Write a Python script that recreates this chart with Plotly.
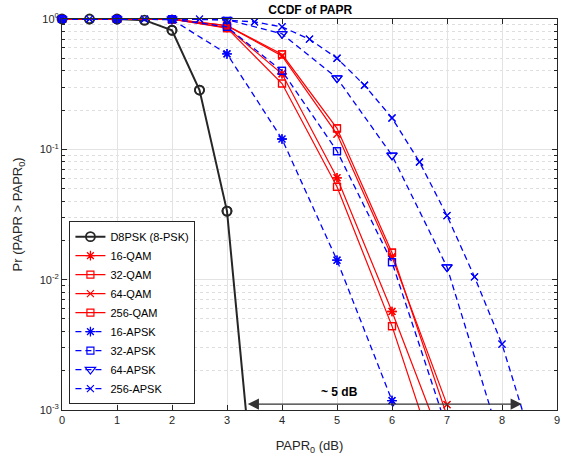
import numpy as np
import plotly.graph_objects as go

# ---------------- data ----------------
x_half = [0, 0.5, 1, 1.5, 2, 2.5, 3, 3.5]
d8psk = [1.0, 1.0, 1.0, 0.98, 0.82, 0.285, 0.0336, 2.0e-4]

x_int = [0, 1, 2, 3, 4, 5, 6, 7]
qam16 = [1.0, 1.0, 0.995, 0.86, 0.38, 0.0605, 0.0057, 4.5e-4]
qam32 = [1.0, 1.0, 0.995, 0.85, 0.32, 0.0516, 0.0044, 2.3e-4]
qam64 = [1.0, 1.0, 0.998, 0.89, 0.52, 0.131, 0.0150, 1.1e-3]
qam256 = [1.0, 1.0, 0.998, 0.89, 0.536, 0.145, 0.0161, 9.0e-4]

apsk16 = [1.0, 1.0, 0.99, 0.54, 0.12, 0.0141, 1.18e-3, 5.0e-5]
apsk32 = [1.0, 1.0, 0.998, 0.87, 0.40, 0.097, 0.0136, 7.2e-4]
x_apsk64 = [0, 1, 2, 3, 4, 5, 6, 7, 8]
apsk64 = [1.0, 1.0, 1.0, 0.99, 0.77, 0.352, 0.090, 0.0125, 5.3e-4]
x_apsk256 = [0, 0.5, 1, 1.5, 2, 2.5, 3, 3.5, 4, 4.5, 5, 5.5, 6, 6.5, 7, 7.5, 8, 8.5]
apsk256 = [1.0, 1.0, 1.0, 1.0, 1.0, 1.0, 0.98, 0.95, 0.87, 0.70, 0.50, 0.31,
           0.174, 0.080, 0.031, 0.0105, 0.0032, 6.6e-4]

x_ticks = [0, 1, 2, 3, 4, 5, 6, 7, 8, 9]
y_ticks = [1e-3, 1e-2, 1e-1, 1]
y_ticktext = ["10<sup>-3</sup>", "10<sup>-2</sup>", "10<sup>-1</sup>", "10<sup>0</sup>"]

arrow_left, arrow_right, arrow_y = 3.35, 8.36, 1.11e-3
label_x, label_y = 5.05, 1.38e-3

# ---------------- style ----------------
RED = "#ff0000"
BLUE = "#0000ff"
BLACK = "#262626"
DASH = "6px,4px"

series = [
    ("D8PSK (8-PSK)", x_half, d8psk, BLACK, 2.0, "solid", "circle-open", 9, 1.8),
    ("16-QAM", x_int, qam16, RED, 1.2, "solid", "asterisk-open", 8, 1.3),
    ("32-QAM", x_int, qam32, RED, 1.2, "solid", "square-open", 7, 1.2),
    ("64-QAM", x_int, qam64, RED, 1.2, "solid", "x-thin-open", 7, 1.2),
    ("256-QAM", x_int, qam256, RED, 1.2, "solid", "square-open", 7, 1.2),
    ("16-APSK", x_int, apsk16, BLUE, 1.3, DASH, "asterisk-open", 8, 1.3),
    ("32-APSK", x_int, apsk32, BLUE, 1.3, DASH, "square-open", 7, 1.2),
    ("64-APSK", x_apsk64, apsk64, BLUE, 1.3, DASH, "triangle-down-open", 9, 1.2),
    ("256-APSK", x_apsk256, apsk256, BLUE, 1.3, DASH, "x-thin-open", 7, 1.2),
]

fig = go.Figure()
for name, xs, ys, col, lw, dash, sym, ms, mlw in series:
    fig.add_trace(go.Scatter(
        x=xs, y=ys, name=name, mode="lines+markers",
        line=dict(color=col, width=lw, dash=dash),
        marker=dict(symbol=sym, size=ms, color=col, line=dict(color=col, width=mlw)),
        legendgroup=name,
    ))
    xin = [a for a, b in zip(xs, ys) if b >= 1e-3]
    yin = [b for b in ys if b >= 1e-3]
    fig.add_trace(go.Scatter(
        x=xin, y=yin, mode="markers", showlegend=False, legendgroup=name,
        cliponaxis=False, hoverinfo="skip",
        marker=dict(symbol=sym, size=ms, color=col, line=dict(color=col, width=mlw)),
    ))

FONT = "Liberation Sans, Arial, sans-serif"

fig.add_annotation(
    x=arrow_right, y=np.log10(arrow_y), ax=arrow_left, ay=np.log10(arrow_y),
    xref="x", yref="y", axref="x", ayref="y", text="", showarrow=True,
    arrowhead=2, arrowside="end+start", arrowsize=1.6, arrowwidth=1.4,
    arrowcolor="#333333",
)
fig.add_annotation(
    x=label_x, y=np.log10(label_y), xref="x", yref="y", text="<b>~ 5 dB</b>",
    showarrow=False, font=dict(family=FONT, size=12, color="#000000"),
)
# y axis title placed as annotation for exact position
fig.add_annotation(
    x=-0.087, y=0.5, xref="paper", yref="paper", xanchor="center", yanchor="middle",
    text="Pr (PAPR > PAPR<sub>0</sub>)", textangle=-90, showarrow=False,
    font=dict(family=FONT, size=13, color="#262626"),
)

fig.update_layout(
    width=561, height=460,
    margin=dict(l=62, r=4, t=19, b=50, autoexpand=False),
    paper_bgcolor="white", plot_bgcolor="white",
    font=dict(family=FONT, size=11, color="#262626"),
    title=dict(text="<b>CCDF of PAPR</b>", x=0.553, xanchor="center", y=0.978,
               yanchor="middle", font=dict(family=FONT, size=12, color="#000000")),
    showlegend=True,
    legend=dict(x=0.015, y=0.015, xanchor="left", yanchor="bottom",
                bgcolor="white", bordercolor="#262626", borderwidth=1,
                font=dict(family=FONT, size=11, color="#000000"),
                tracegroupgap=0, itemwidth=30),
)
fig.update_xaxes(
    range=[0, 9], tickvals=x_ticks, ticks="inside", ticklen=5, tickcolor="#262626",
    showline=True, linecolor="#262626", linewidth=1, mirror="ticks",
    showgrid=True, gridcolor="#e3e3e3", gridwidth=1, zeroline=False, automargin=False,
    title=dict(text="PAPR<sub>0</sub> (dB)", font=dict(family=FONT, size=13, color="#262626")),
    tickfont=dict(family=FONT, size=11, color="#262626"),
)
fig.update_yaxes(
    type="log", range=[-3, 0], tickvals=y_ticks, ticktext=y_ticktext,
    ticks="inside", ticklen=5, tickcolor="#262626",
    showline=True, linecolor="#262626", linewidth=1, mirror="ticks",
    showgrid=True, gridcolor="#e3e3e3", gridwidth=1, zeroline=False, automargin=False,
    minor=dict(ticks="inside", ticklen=3, tickcolor="#262626", showgrid=True,
               gridcolor="#dedede", griddash="dot", gridwidth=1,
               tickvals=[m * 10.0 ** k for k in (-3, -2, -1) for m in range(2, 10)]),
    tickfont=dict(family=FONT, size=11, color="#262626"),
)

fig.write_html("out.html", config={"displayModeBar": False},
               post_script="document.body.style.margin='0px';")
